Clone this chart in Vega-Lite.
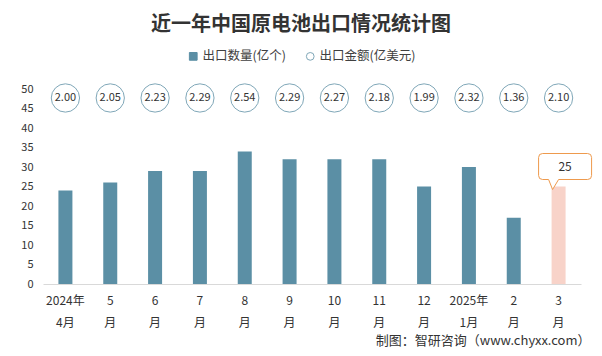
{
  "$schema": "https://vega.github.io/schema/vega-lite/v6.json",
  "autosize": {"type": "none"},
  "width": 538,
  "height": 195,
  "padding": {"left": 43, "top": 89, "right": 21, "bottom": 72},
  "background": "white",
  "title": {
    "text": "近一年中国原电池出口情况统计图",
    "font": "Noto Sans CJK SC",
    "fontSize": 20,
    "fontWeight": "bold",
    "color": "#333333",
    "anchor": "middle",
    "frame": "group",
    "dx": -11,
    "offset": 15
  },
  "data": {
    "values": [
      {"m": "2024年\n4月", "qty": 24, "amt": 2.00},
      {"m": "5\n月", "qty": 26, "amt": 2.05},
      {"m": "6\n月", "qty": 29, "amt": 2.23},
      {"m": "7\n月", "qty": 29, "amt": 2.29},
      {"m": "8\n月", "qty": 34, "amt": 2.54},
      {"m": "9\n月", "qty": 32, "amt": 2.29},
      {"m": "10\n月", "qty": 32, "amt": 2.27},
      {"m": "11\n月", "qty": 32, "amt": 2.18},
      {"m": "12\n月", "qty": 25, "amt": 1.99},
      {"m": "2025年\n1月", "qty": 30, "amt": 2.32},
      {"m": "2\n月", "qty": 17, "amt": 1.36},
      {"m": "3\n月", "qty": 25, "amt": 2.10}
    ]
  },
  "encoding": {
    "x": {
      "field": "m",
      "type": "ordinal",
      "sort": null,
      "scale": {"paddingInner": 0, "paddingOuter": 0},
      "axis": {
        "title": "制图：智研咨询（www.chyxx.com）",
        "titleFont": "Noto Sans CJK SC",
        "titleFontSize": 13,
        "titleFontWeight": "normal",
        "titleColor": "#333333",
        "titleAnchor": "end",
        "titleX": 547,
        "titleAlign": "right",
        "titlePadding": 6,
        "labelAngle": 0,
        "labelExpr": "split(datum.label, '\\n')",
        "labelFont": "Noto Sans CJK SC",
        "labelFontSize": 12,
        "labelColor": "#333333",
        "labelLineHeight": 22,
        "labelPadding": 11,
        "ticks": false,
        "domainColor": "#d9d9d9",
        "domainWidth": 1
      }
    }
  },
  "layer": [
    {
      "mark": {"type": "bar", "size": 14},
      "encoding": {
        "y": {
          "field": "qty",
          "type": "quantitative",
          "scale": {"domain": [0, 50], "nice": false},
          "axis": {
            "title": null,
            "values": [0, 5, 10, 15, 20, 25, 30, 35, 40, 45, 50],
            "labelOverlap": false,
            "domain": false,
            "ticks": false,
            "grid": false,
            "labelPadding": 10,
            "labelFont": "Noto Sans CJK SC",
            "labelFontSize": 11,
            "labelColor": "#333333"
          }
        },
        "color": {
          "condition": {"test": "datum.m === '3\\n月'", "value": "#f8d3c9"},
          "datum": "出口数量(亿个)",
          "type": "nominal",
          "scale": {
            "domain": ["出口数量(亿个)", "出口金额(亿美元)"],
            "range": ["#5b8fa5", "#7fa7b8"]
          },
          "legend": {
            "title": null,
            "orient": "none",
            "direction": "horizontal",
            "legendX": 144,
            "legendY": -39,
            "labelFont": "Noto Sans CJK SC",
            "labelFontSize": 12.5,
            "labelColor": "#404040",
            "symbolSize": 60,
            "columnPadding": 18,
            "labelOffset": 3,
            "encode": {
              "symbols": {
                "update": {
                  "shape": {"signal": "datum.value === '出口数量(亿个)' ? 'square' : 'circle'"},
                  "fillOpacity": {"signal": "datum.value === '出口数量(亿个)' ? 1 : 0"},
                  "stroke": {"signal": "datum.value === '出口数量(亿个)' ? '#5b8fa5' : '#8fb2c2'"},
                  "strokeWidth": {"value": 1},
                  "opacity": {"value": 1}
                }
              }
            }
          }
        }
      }
    },
    {
      "mark": {"type": "point", "filled": false, "size": 800, "strokeWidth": 1, "opacity": 1, "shape": "circle"},
      "encoding": {
        "y": {
          "datum": 47.7,
          "type": "quantitative",
          "scale": {"domain": [0, 50], "nice": false},
          "axis": {
            "title": null,
            "values": [0, 5, 10, 15, 20, 25, 30, 35, 40, 45, 50],
            "labelOverlap": false,
            "domain": false,
            "ticks": false,
            "grid": false,
            "labelPadding": 10,
            "labelFont": "Noto Sans CJK SC",
            "labelFontSize": 11,
            "labelColor": "#333333"
          }
        },
        "color": {"datum": "出口金额(亿美元)", "type": "nominal"}
      }
    },
    {
      "mark": {"type": "text", "font": "Noto Sans CJK SC", "fontSize": 11, "color": "#333333", "baseline": "middle"},
      "encoding": {
        "y": {
          "datum": 47.7,
          "type": "quantitative",
          "scale": {"domain": [0, 50], "nice": false},
          "axis": {
            "title": null,
            "values": [0, 5, 10, 15, 20, 25, 30, 35, 40, 45, 50],
            "labelOverlap": false,
            "domain": false,
            "ticks": false,
            "grid": false,
            "labelPadding": 10,
            "labelFont": "Noto Sans CJK SC",
            "labelFontSize": 11,
            "labelColor": "#333333"
          }
        },
        "text": {"field": "amt", "type": "quantitative", "format": ".2f"}
      }
    },
    {
      "transform": [{"filter": "datum.m === '3\\n月'"}],
      "mark": {
        "type": "point",
        "shape": "M -6 3 L -10 -7 L -16 -7 Q -20 -7 -20 -11 L -20 -29 Q -20 -33 -16 -33 L 29 -33 Q 33 -33 33 -29 L 33 -11 Q 33 -7 29 -7 L 0 -7 Z",
        "size": 4,
        "filled": true,
        "fill": "white",
        "stroke": "#ee9a4d",
        "strokeWidth": 1,
        "opacity": 1
      },
      "encoding": {
        "y": {
          "field": "qty",
          "type": "quantitative",
          "scale": {"domain": [0, 50], "nice": false},
          "axis": {
            "title": null,
            "values": [0, 5, 10, 15, 20, 25, 30, 35, 40, 45, 50],
            "labelOverlap": false,
            "domain": false,
            "ticks": false,
            "grid": false,
            "labelPadding": 10,
            "labelFont": "Noto Sans CJK SC",
            "labelFontSize": 11,
            "labelColor": "#333333"
          }
        }
      }
    },
    {
      "transform": [{"filter": "datum.m === '3\\n月'"}],
      "mark": {"type": "text", "font": "Noto Sans CJK SC", "fontSize": 12, "color": "#333333", "baseline": "middle", "dx": 6.5, "dy": -20},
      "encoding": {
        "y": {
          "field": "qty",
          "type": "quantitative",
          "scale": {"domain": [0, 50], "nice": false},
          "axis": {
            "title": null,
            "values": [0, 5, 10, 15, 20, 25, 30, 35, 40, 45, 50],
            "labelOverlap": false,
            "domain": false,
            "ticks": false,
            "grid": false,
            "labelPadding": 10,
            "labelFont": "Noto Sans CJK SC",
            "labelFontSize": 11,
            "labelColor": "#333333"
          }
        },
        "text": {"field": "qty", "type": "quantitative"}
      }
    }
  ],
  "config": {"view": {"stroke": null}}
}
